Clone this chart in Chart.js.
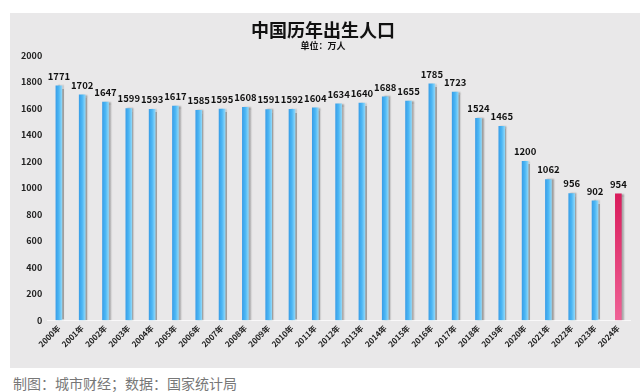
<!DOCTYPE html>
<html>
<head>
<meta charset="utf-8">
<script src="https://cdn.jsdelivr.net/npm/chart.js@4"></script>
<style>
  body { margin: 0; background: #ffffff; width: 640px; height: 392px; overflow: hidden; position: relative; }
  #panel { position: absolute; left: 10px; top: 13px; width: 630px; height: 355px; background: #e9e8e9; }
  #footer { position: absolute; left: 13px; top: 373px; font: 14px "Noto Sans CJK SC", sans-serif; color: #777; white-space: nowrap; }
</style>
</head>
<body>
<div id="panel"><canvas id="birthChart"></canvas></div>
<div id="footer">制图：城市财经；数据：国家统计局</div>
<script>
// years and births (unit: 10k people)
const years = ["2000年", "2001年", "2002年", "2003年", "2004年", "2005年", "2006年", "2007年", "2008年",
  "2009年", "2010年", "2011年", "2012年", "2013年", "2014年", "2015年", "2016年", "2017年", "2018年",
  "2019年", "2020年", "2021年", "2022年", "2023年", "2024年"];
const births = [1771, 1702, 1647, 1599, 1593, 1617, 1585, 1595, 1608, 1591, 1592, 1604, 1634, 1640,
  1688, 1655, 1785, 1723, 1524, 1465, 1200, 1062, 956, 902, 954];
const yTicks = [0, 200, 400, 600, 800, 1000, 1200, 1400, 1600, 1800, 2000];

const BAR_W = 6;
const FONT = '"Noto Sans CJK SC", sans-serif';

// horizontal gradient for blue bars, vertical one for the last (highlighted) bar
function barColor(ctx) {
  const chart = ctx.chart;
  const xs = chart.scales.x;
  const ys = chart.scales.y;
  const last = ctx.dataIndex === births.length - 1;
  if (!xs || !ys || !chart.chartArea) return last ? "#e03570" : "#45b0ec";
  const c = chart.ctx;
  if (last) {
    const top = ys.getPixelForValue(births[ctx.dataIndex]);
    const bottom = ys.getPixelForValue(0);
    if (!Number.isFinite(top) || !Number.isFinite(bottom)) return "#e03570";
    const g = c.createLinearGradient(0, top, 0, bottom);
    g.addColorStop(0, "#d91c5c");
    g.addColorStop(1, "#ef6296");
    return g;
  }
  const cx = xs.getPixelForValue(ctx.dataIndex);
  if (!Number.isFinite(cx)) return "#45b0ec";
  const g = c.createLinearGradient(cx - BAR_W / 2, 0, cx + BAR_W / 2, 0);
  g.addColorStop(0, "#3a9fe8");
  g.addColorStop(0.5, "#4cb7f4");
  g.addColorStop(1, "#8ed6f8");
  return g;
}

// shadow beside bars + value labels on top
const barDecor = {
  id: "barDecor",
  beforeDatasetsDraw(chart) {
    const c = chart.ctx;
    c.save();
    c.shadowColor = "rgba(110,110,110,0.6)";
    c.shadowOffsetX = 2;
    c.shadowOffsetY = 0;
    c.shadowBlur = 1.5;
  },
  afterDatasetsDraw(chart) {
    const c = chart.ctx;
    c.restore();
    const meta = chart.getDatasetMeta(0);
    c.save();
    c.font = "bold 9.5px " + FONT;
    c.fillStyle = "#111";
    c.textAlign = "center";
    c.textBaseline = "bottom";
    meta.data.forEach((bar, i) => {
      c.fillText(String(births[i]), bar.x, bar.y - 5);
    });
    c.restore();
  }
};

new Chart(document.getElementById("birthChart"), {
  type: "bar",
  data: {
    labels: years,
    datasets: [{
      data: births,
      backgroundColor: barColor,
      barThickness: BAR_W,
      borderWidth: 0
    }]
  },
  options: {
    responsive: true,
    maintainAspectRatio: false,
    animation: false,
    layout: { padding: { left: 6, right: 10, top: 0, bottom: 16 } },
    plugins: {
      legend: { display: false },
      tooltip: { enabled: false },
      title: {
        display: true,
        text: "中国历年出生人口",
        color: "#111",
        font: { family: FONT, size: 18, weight: "bold" },
        padding: { top: 6, bottom: 0 }
      },
      subtitle: {
        display: true,
        text: "单位：万人",
        color: "#111",
        font: { family: FONT, size: 9, weight: "bold" },
        padding: { top: 0, bottom: 4 }
      }
    },
    scales: {
      x: {
        grid: { display: false, drawTicks: false },
        border: { display: true, color: "rgba(255,255,255,0.7)" },
        afterFit(scale) { scale.paddingLeft = 0; scale.paddingRight = 0; },
        ticks: {
          color: "#222",
          font: { family: FONT, size: 8, weight: "bold" },
          minRotation: 45,
          maxRotation: 45,
          padding: 3
        }
      },
      y: {
        min: 0,
        max: 2000,
        afterBuildTicks(axis) { axis.ticks = yTicks.map(v => ({ value: v })); },
        grid: { display: false, drawTicks: false },
        border: { display: false },
        ticks: {
          color: "#222",
          font: { family: FONT, size: 9, weight: "bold" },
          padding: 5,
          callback: (v) => String(v)
        }
      }
    }
  },
  plugins: [barDecor]
});
</script>
</body>
</html>
